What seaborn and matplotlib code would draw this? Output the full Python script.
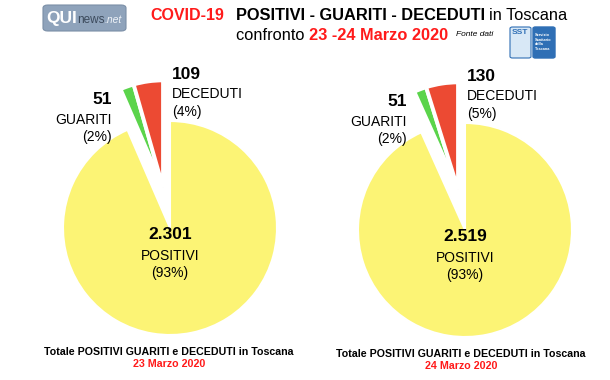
import matplotlib
matplotlib.use("Agg")
import matplotlib.pyplot as plt
import seaborn as sns
from matplotlib.patches import FancyBboxPatch

# ------------------------------------------
# Data
# ------------------------------------------
categories = ["POSITIVI", "GUARITI", "DECEDUTI"]
dates = ["23 Marzo 2020", "24 Marzo 2020"]
values_23 = [2301, 51, 109]
values_24 = [2519, 51, 130]
value_labels_23 = ["2.301", "51", "109"]
value_labels_24 = ["2.519", "51", "130"]
pct_23 = ["(93%)", "(2%)", "(4%)"]
pct_24 = ["(93%)", "(2%)", "(5%)"]

colors = ["#fcf475", "#5bd44b", "#ec4a33"]
RED = "#ff1a1a"

sns.set_style("white")
plt.rcParams["font.family"] = ["Liberation Sans", "DejaVu Sans"]
plt.rcParams["text.color"] = "black"

W, H = 610, 380
fig = plt.figure(figsize=(W / 100, H / 100), dpi=100)
fig.patch.set_facecolor("white")

R = 107  # pie radius in px
LIM = 1.7
SHIFT = (-0.065, 0.38)  # small slices pulled out together


def pie_axes(cx, cy):
    size = 2 * LIM * R
    return fig.add_axes([(cx - size / 2) / W, 1 - (cy + size / 2) / H,
                         size / W, size / H])


def draw_pie(ax, values, vlabels, pcts):
    # main slice
    wedges, _ = ax.pie(values, colors=colors, startangle=90,
                       counterclock=False, radius=1.0,
                       wedgeprops=dict(edgecolor="white", linewidth=1.5))
    for w in wedges[1:]:
        w.set_visible(False)
    # small slices, detached
    wedges2, _ = ax.pie(values, colors=colors, startangle=90,
                        counterclock=False, radius=1.0, center=SHIFT,
                        wedgeprops=dict(edgecolor="white", linewidth=2.8))
    wedges2[0].set_visible(False)

    ax.set_xlim(-LIM, LIM)
    ax.set_ylim(-LIM, LIM)
    ax.set_aspect("equal")
    ax.axis("off")

    # center label (POSITIVI)
    ax.text(0.0, -0.06, vlabels[0], ha="center", va="center",
            fontsize=12.5, fontweight="bold")
    ax.text(0.0, -0.26, categories[0], ha="center", va="center", fontsize=10)
    ax.text(0.0, -0.42, pcts[0], ha="center", va="center", fontsize=10)

    # GUARITI
    ax.text(-0.54, 1.20, vlabels[1], ha="right", va="center",
            fontsize=12.5, fontweight="bold")
    ax.text(-0.54, 1.01, categories[1], ha="right", va="center", fontsize=10)
    ax.text(-0.54, 0.85, pcts[1], ha="right", va="center", fontsize=10)

    # DECEDUTI
    ax.text(0.02, 1.43, vlabels[2], ha="left", va="center",
            fontsize=12.5, fontweight="bold")
    ax.text(0.02, 1.25, categories[2], ha="left", va="center", fontsize=10)
    ax.text(0.02, 1.08, pcts[2], ha="left", va="center", fontsize=10)


ax1 = pie_axes(170, 228)
draw_pie(ax1, values_23, value_labels_23, pct_23)

ax2 = pie_axes(465, 230)
draw_pie(ax2, values_24, value_labels_24, pct_24)

# ------------------------------------------
# Footers
# ------------------------------------------
for cx, cy, d in [(169, 352, dates[0]), (461, 354, dates[1])]:
    fig.text(cx / W, 1 - cy / H, "Totale POSITIVI GUARITI e DECEDUTI in Toscana",
             ha="center", va="center", fontsize=7.7, fontweight="bold")
    fig.text(cx / W, 1 - (cy + 12) / H, d, ha="center", va="center",
             fontsize=7.7, fontweight="bold", color=RED)

# ------------------------------------------
# Header
# ------------------------------------------
fig.text(150 / W, 1 - 16 / H, "COVID-19", ha="left", va="center",
         fontsize=11.5, fontweight="bold", color=RED)
t = fig.text(236 / W, 1 - 15 / H, "POSITIVI - GUARITI - DECEDUTI",
             ha="left", va="center", fontsize=11.8, fontweight="bold")
fig.canvas.draw()
bb = t.get_window_extent()
fig.text(bb.x1 / W + 4 / W, 1 - 15 / H, "in Toscana", ha="left", va="center",
         fontsize=11.8)
t2 = fig.text(236 / W, 1 - 35 / H, "confronto ", ha="left", va="center",
              fontsize=11.8)
fig.canvas.draw()
bb2 = t2.get_window_extent()
t3 = fig.text(bb2.x1 / W, 1 - 35 / H, "23 -24 Marzo 2020", ha="left",
              va="center", fontsize=11.8, fontweight="bold", color=RED)
fig.canvas.draw()
bb3 = t3.get_window_extent()
fig.text(bb3.x1 / W + 8 / W, 1 - 35 / H, "Fonte dati", ha="left", va="center",
         fontsize=6, style="italic")

# QUInews logo
fig.patches.append(FancyBboxPatch((43 / W, 1 - 31 / H), 83 / W, 26 / H,
                                  boxstyle="round,pad=0,rounding_size=0.008",
                                  transform=fig.transFigure,
                                  facecolor="#8fa3bb", edgecolor="#7a8ea6",
                                  linewidth=0.8))
q = fig.text(46 / W, 1 - 18 / H, "QUI", ha="left", va="center", fontsize=12.5,
             fontweight="bold", color="white")
fig.canvas.draw()
bq = q.get_window_extent()
n = fig.text(bq.x1 / W, 1 - 20 / H, "news", ha="left", va="center",
             fontsize=8.5, color="#3c4a5c")
fig.canvas.draw()
bn = n.get_window_extent()
fig.text(bn.x1 / W, 1 - 20 / H, ".net", ha="left", va="center",
         fontsize=7.5, style="italic", color="#eef2f7")

# SST logo
fig.patches.append(FancyBboxPatch((510 / W, 1 - 58 / H), 21 / W, 31 / H,
                                  boxstyle="round,pad=0,rounding_size=0.004",
                                  transform=fig.transFigure,
                                  facecolor="#d8e8f6", edgecolor="#2f6fb5",
                                  linewidth=0.8))
fig.text(520 / W, 1 - 33 / H, "SST", ha="center", va="center", fontsize=6,
         fontweight="bold", color="#2f6fb5")
fig.patches.append(FancyBboxPatch((533 / W, 1 - 58 / H), 22 / W, 31 / H,
                                  boxstyle="round,pad=0,rounding_size=0.004",
                                  transform=fig.transFigure,
                                  facecolor="#2f6fb5", edgecolor="#2f6fb5"))
fig.text(535 / W, 1 - 42 / H, "Servizio\nSanitario\ndella\nToscana",
         ha="left", va="center", fontsize=2.8, fontweight="bold",
         color="white", linespacing=1.2)

fig.savefig("out.png", dpi=100, facecolor="white")
